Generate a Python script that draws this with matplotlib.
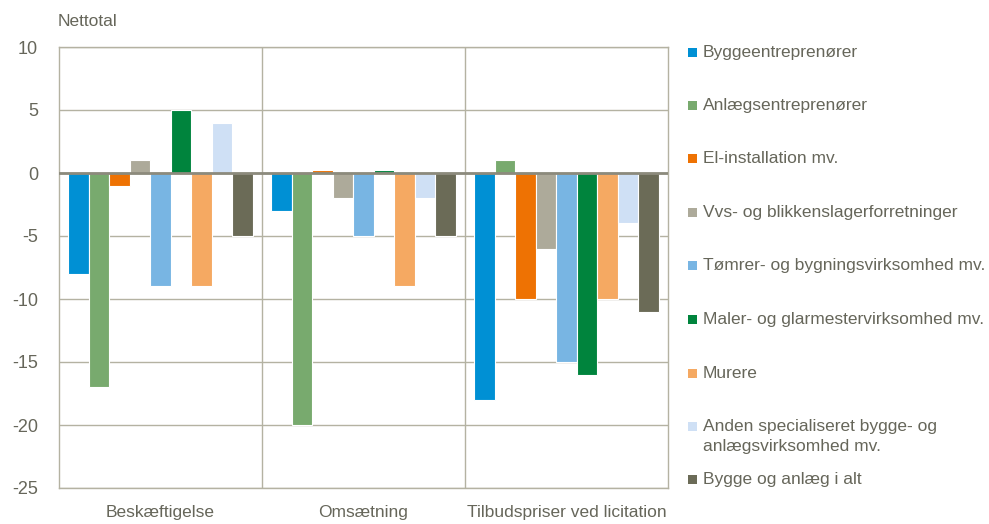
import numpy as np
import matplotlib.pyplot as plt
from matplotlib.patches import Rectangle

plt.rcParams['font.family'] = ['Liberation Sans', 'DejaVu Sans']
plt.rcParams['axes.unicode_minus'] = False

groups = ["Beskæftigelse", "Omsætning", "Tilbudspriser ved licitation"]
series = [
    "Byggeentreprenører",
    "Anlægsentreprenører",
    "El-installation mv.",
    "Vvs- og blikkenslagerforretninger",
    "Tømrer- og bygningsvirksomhed mv.",
    "Maler- og glarmestervirksomhed mv.",
    "Murere",
    "Anden specialiseret bygge- og\nanlægsvirksomhed mv.",
    "Bygge og anlæg i alt",
]
# values per series: [Beskæftigelse, Omsætning, Tilbudspriser]
byggeentreprenoerer = [-8, -3, -18]
anlaegsentreprenoerer = [-17, -20, 1]
el_installation = [-1, 0.2, -10]
vvs = [1, -2, -6]
toemrer = [-9, -5, -15]
maler = [5, 0.2, -16]
murere = [-9, -9, -10]
anden = [4, -2, -4]
i_alt = [-5, -5, -11]
values = [byggeentreprenoerer, anlaegsentreprenoerer, el_installation, vvs,
          toemrer, maler, murere, anden, i_alt]

colors = ["#0090d4", "#78aa6e", "#ee7203", "#adaa9a", "#78b5e3",
          "#00843d", "#f5a962", "#cfe0f5", "#6b6b57"]
text_col = "#66665a"
grid_col = "#b4b2a2"
fs = 12.5

W, H = 989, 524
fig = plt.figure(figsize=(W / 100, H / 100), dpi=100)
ax = fig.add_axes([59 / W, 1 - 488 / H, (668 - 59) / W, (488 - 47) / H])

x = np.arange(len(groups))
n = len(series)
w = 0.91 / n
for i, (vals, c) in enumerate(zip(values, colors)):
    ax.bar(x + (i - (n - 1) / 2) * w, vals, width=w, color=c,
           edgecolor="white", linewidth=0.8, zorder=2)

ax.set_xlim(-0.5, len(groups) - 0.5)
ax.set_ylim(-25, 10)
ax.set_yticks(np.arange(-25, 11, 5))
ax.yaxis.grid(True, color=grid_col, linewidth=1, zorder=0)
ax.set_axisbelow(True)
for b in np.arange(0.5, len(groups) - 0.5):
    ax.axvline(b, color=grid_col, linewidth=1, zorder=0)
ax.axhline(0, color="#8c8a7c", linewidth=2, zorder=3)

for s in ax.spines.values():
    s.set_color(grid_col)
    s.set_linewidth(1)

ax.set_xticks(x)
ax.set_xticklabels(groups)
ax.tick_params(axis="both", length=0, labelsize=fs, colors=text_col)
ax.tick_params(axis="y", pad=15, labelsize=13)
ax.tick_params(axis="x", pad=12)

fig.text(58 / W, 1 - 22 / H, "Nettotal", fontsize=fs, color=text_col,
         ha="left", va="center")

# legend on the right
leg_y = [52, 105, 158, 212, 265, 319, 373, 426, 479]
for name, c, yp in zip(series, colors, leg_y):
    fig.patches.append(Rectangle((688 / W, 1 - (yp + 4.5) / H), 9 / W, 9 / H,
                                 transform=fig.transFigure, facecolor=c,
                                 edgecolor="none"))
    fig.text(703 / W, 1 - (yp - 7) / H, name, fontsize=fs, color=text_col,
             ha="left", va="top", linespacing=1.4)

fig.savefig("out.png", dpi=100)
